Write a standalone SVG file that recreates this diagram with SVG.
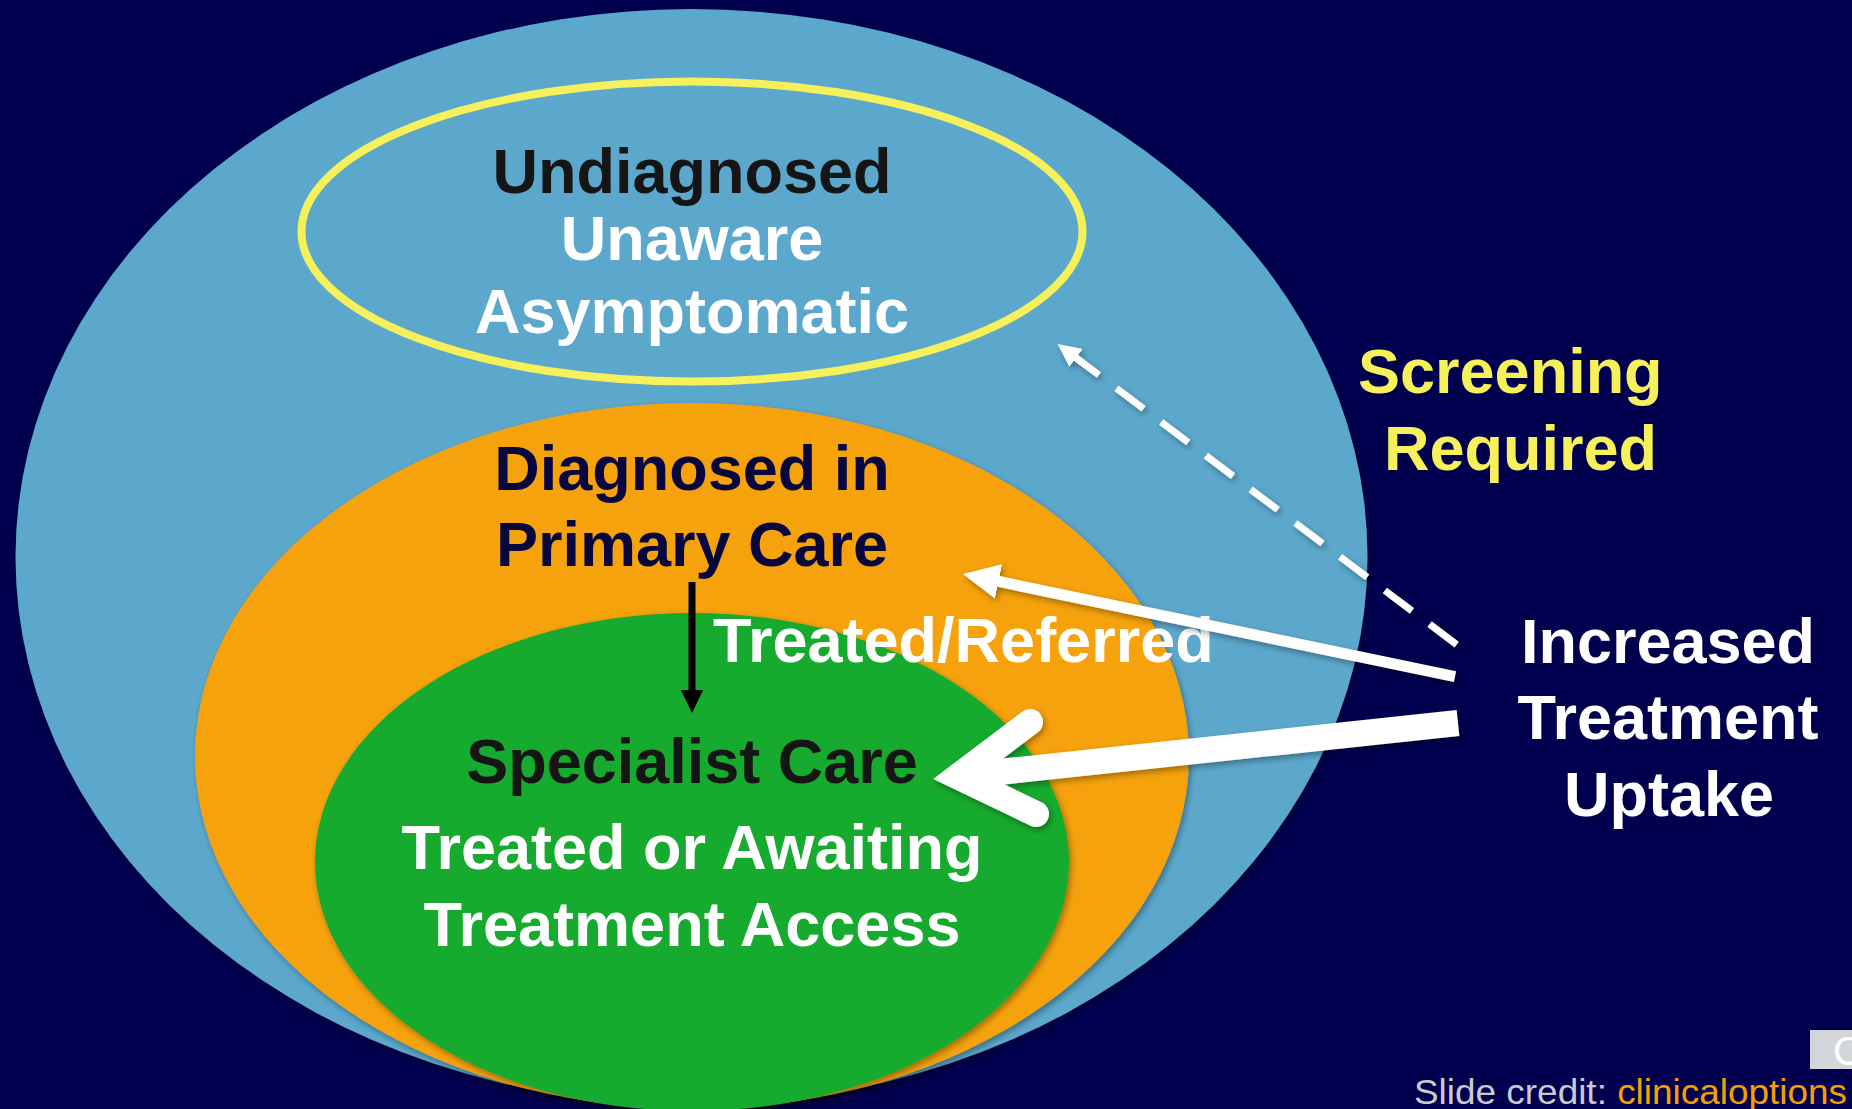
<svg xmlns="http://www.w3.org/2000/svg" width="1852" height="1109" viewBox="0 0 1852 1109">
  <style>
    .t { font-family: "Liberation Sans", Arial, sans-serif; font-weight: bold; font-size: 63px; }
    .mid { text-anchor: middle; }
    .white { fill: #FFFFFF; }
    .dark { fill: #151515; }
    .navy { fill: #07073E; }
    .yellow { fill: #F6F05A; }
    .arrow-w { stroke: #FFFFFF; fill: none; }
    .credit { font-family: "Liberation Sans", Arial, sans-serif; font-size: 35px; }
  </style>
  <defs>
    <filter id="shadow" x="-10%" y="-10%" width="120%" height="120%">
      <feDropShadow dx="2" dy="3" stdDeviation="3" flood-color="#000000" flood-opacity="0.35"/>
    </filter>
    <marker id="triW" viewBox="0 0 33 32" refX="3" refY="16" markerWidth="3.3" markerHeight="3.2" orient="auto" markerUnits="strokeWidth">
      <path d="M0,0 L33,16 L0,32 z" fill="#FFFFFF"/>
    </marker>
    <marker id="triK" viewBox="0 0 33 32" refX="3" refY="16" markerWidth="3.3" markerHeight="3.2" orient="auto" markerUnits="strokeWidth">
      <path d="M0,0 L33,16 L0,32 z" fill="#000000"/>
    </marker>
  </defs>

  <rect id="background" x="0" y="0" width="1852" height="1109" fill="#00004E"/>

  <g id="all-population">
    <ellipse cx="691.5" cy="557" rx="676" ry="548" fill="#5BA8CC" filter="url(#shadow)"/>
  </g>

  <g id="undiagnosed">
    <ellipse cx="692" cy="231.5" rx="390.5" ry="150" fill="none" stroke="#F6F05A" stroke-width="8"/>
    <text class="t mid dark" x="692" y="193">Undiagnosed</text>
    <text class="t mid white" x="692" y="260">Unaware</text>
    <text class="t mid white" x="692" y="333">Asymptomatic</text>
  </g>

  <g id="primary-care">
    <ellipse cx="692" cy="756" rx="497" ry="353" fill="#F5A20A" filter="url(#shadow)"/>
    <text class="t mid navy" x="692" y="490">Diagnosed in</text>
    <text class="t mid navy" x="692" y="566">Primary Care</text>
  </g>

  <g id="specialist-care">
    <ellipse cx="692" cy="862" rx="377" ry="249" fill="#14AB2E" filter="url(#shadow)"/>
    <text class="t mid dark" x="692" y="783">Specialist Care</text>
    <text class="t mid white" x="692" y="869">Treated or Awaiting</text>
    <text class="t mid white" x="692" y="946">Treatment Access</text>
  </g>

  <g id="screening-label">
    <text class="t yellow" x="1358" y="393">Screening</text>
    <text class="t yellow" x="1384" y="470">Required</text>
  </g>

  <g id="uptake-label">
    <text class="t mid white" x="1668" y="663">Increased</text>
    <text class="t mid white" x="1668" y="739">Treatment</text>
    <text class="t mid white" x="1669" y="816">Uptake</text>
  </g>

  <g id="connectors">
    <line x1="692" y1="582" x2="692" y2="692" stroke="#000000" stroke-width="7" marker-end="url(#triK)"/>
    <text class="t white" x="713" y="662">Treated/Referred</text>
    <g filter="url(#shadow)">
      <line class="arrow-w" x1="1456.7" y1="644.6" x2="1074.4" y2="356.6" stroke-width="7" stroke-dasharray="34 22" marker-end="url(#triW)"/>
      <line class="arrow-w" x1="1455" y1="676.7" x2="995.3" y2="580.7" stroke-width="11" marker-end="url(#triW)"/>
      <line class="arrow-w" x1="1458" y1="723" x2="962" y2="776" stroke-width="26"/>
      <path class="arrow-w" d="M1030,722 L958,776.5 L1036,814" stroke-width="26" stroke-linecap="round" stroke-linejoin="miter" stroke-miterlimit="10"/>
    </g>
  </g>

  <g id="credit">
    <rect x="1810" y="1030" width="42" height="39" fill="#D3D6D9"/>
    <text x="1833" y="1065" font-family="Liberation Sans, Arial, sans-serif" font-size="40" fill="#FFFFFF">C</text>
    <text class="credit" x="1414" y="1104" textLength="433" lengthAdjust="spacingAndGlyphs"><tspan fill="#C9CBD0">Slide credit: </tspan><tspan fill="#F5A000">clinicaloptions</tspan></text>
  </g>
</svg>
